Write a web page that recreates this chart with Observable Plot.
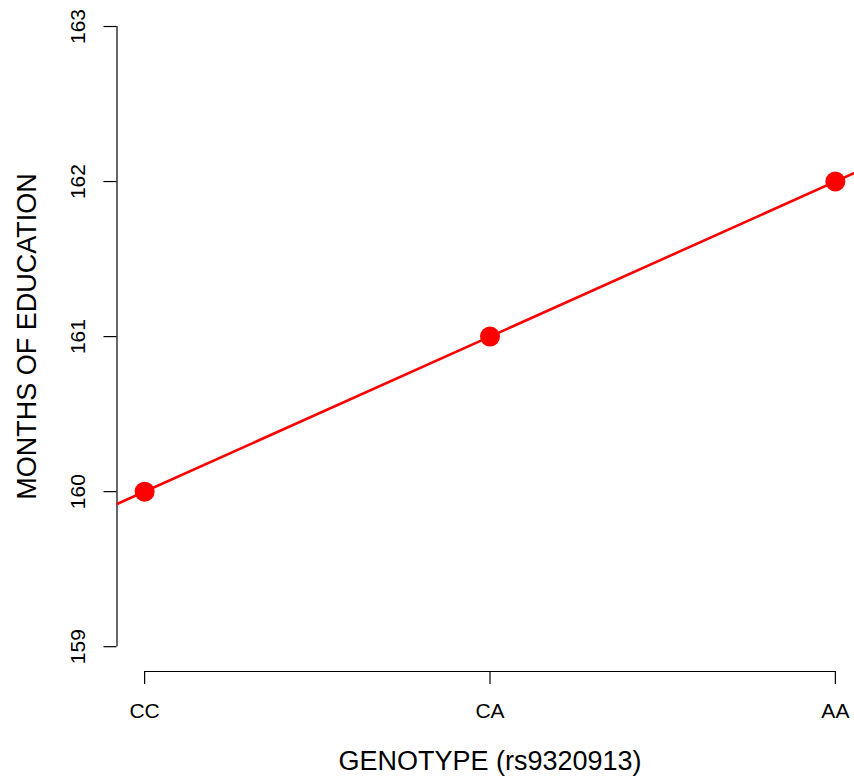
<!DOCTYPE html>
<html>
<head>
<meta charset="utf-8">
<script src="https://cdn.jsdelivr.net/npm/d3@7"></script>
<script src="https://cdn.jsdelivr.net/npm/@observablehq/plot@0.6"></script>
<style>
  html, body { margin: 0; padding: 0; background: #fff; overflow: hidden; }
</style>
</head>
<body>
<div id="chart"></div>
<script>
// ---- data ----
const genotypes = ["CC", "CA", "AA"];
const months = [160, 161, 162];
const yTicks = [159, 160, 161, 162, 163];
const xTitle = "GENOTYPE (rs9320913)";
const yTitle = "MONTHS OF EDUCATION";

// ---- derived ----
const pts = genotypes.map((g, i) => ({g, x: i + 1, y: months[i]}));
const pad = 0.04;
const xr = [1, genotypes.length];
const xDom = [xr[0] - pad * (xr[1] - xr[0]), xr[1] + pad * (xr[1] - xr[0])];
const yr = [d3.min(yTicks), d3.max(yTicks)];
const yDom = [yr[0] - pad * (yr[1] - yr[0]), yr[1] + pad * (yr[1] - yr[0])];

// least squares fit (abline)
const mx = d3.mean(pts, d => d.x), my = d3.mean(pts, d => d.y);
const slope = d3.sum(pts, d => (d.x - mx) * (d.y - my)) / d3.sum(pts, d => (d.x - mx) ** 2);
const icpt = my - slope * mx;
const fit = xDom.map(x => ({x, y: icpt + slope * x}));

const font = "'Liberation Sans', Arial, Helvetica, sans-serif";
const W = 854, H = 778;
const pLeft = 116.5, pRight = 862.5, pTop = 1.2, pBottom = 671;

const chart = Plot.plot({
  width: W,
  height: H,
  marginLeft: pLeft,
  marginRight: 0,
  marginTop: pTop,
  marginBottom: H - pBottom,
  style: {fontFamily: font, background: "white", color: "black"},
  x: {type: "linear", domain: xDom, range: [pLeft, pRight]},
  y: {type: "linear", domain: yDom, range: [pBottom, pTop]},
  marks: [
    Plot.axisY({ticks: yTicks, tickSize: 13, tickFormat: () => "", label: null, stroke: "black", strokeWidth: 1.2}),
    Plot.axisX({ticks: pts.map(d => d.x), tickSize: 13, tickFormat: () => "", label: null, stroke: "black", strokeWidth: 1.2}),
    Plot.ruleX([xDom[0]], {y1: yr[0], y2: yr[1], stroke: "black", strokeWidth: 1.2}),
    Plot.ruleY([yDom[0]], {x1: xr[0], x2: xr[1], stroke: "black", strokeWidth: 1.2}),
    Plot.text(yTicks, {x: xDom[0], y: d => d, text: d => String(d), rotate: -90, dx: -39,
      textAnchor: "middle", lineAnchor: "middle", fontSize: 21, fill: "black"}),
    Plot.text(pts, {x: "x", y: yDom[0], text: "g", dy: 40, textAnchor: "middle",
      lineAnchor: "middle", fontSize: 21, fill: "black"}),
    Plot.text([xTitle], {x: (xr[0] + xr[1]) / 2, y: yDom[0], text: d => d, dy: 90,
      textAnchor: "middle", lineAnchor: "middle", fontSize: 27, fill: "black"}),
    Plot.text([yTitle], {x: xDom[0], y: (yDom[0] + yDom[1]) / 2, text: d => d, dx: -90, rotate: -90,
      textAnchor: "middle", lineAnchor: "middle", fontSize: 27, fill: "black"}),
    Plot.line(fit, {x: "x", y: "y", stroke: "#ff0000", strokeWidth: 2.6, clip: true}),
    Plot.dot(pts, {x: "x", y: "y", r: 10, fill: "#ff0000", stroke: "none"})
  ]
});
document.getElementById("chart").appendChild(chart);
</script>
</body>
</html>
